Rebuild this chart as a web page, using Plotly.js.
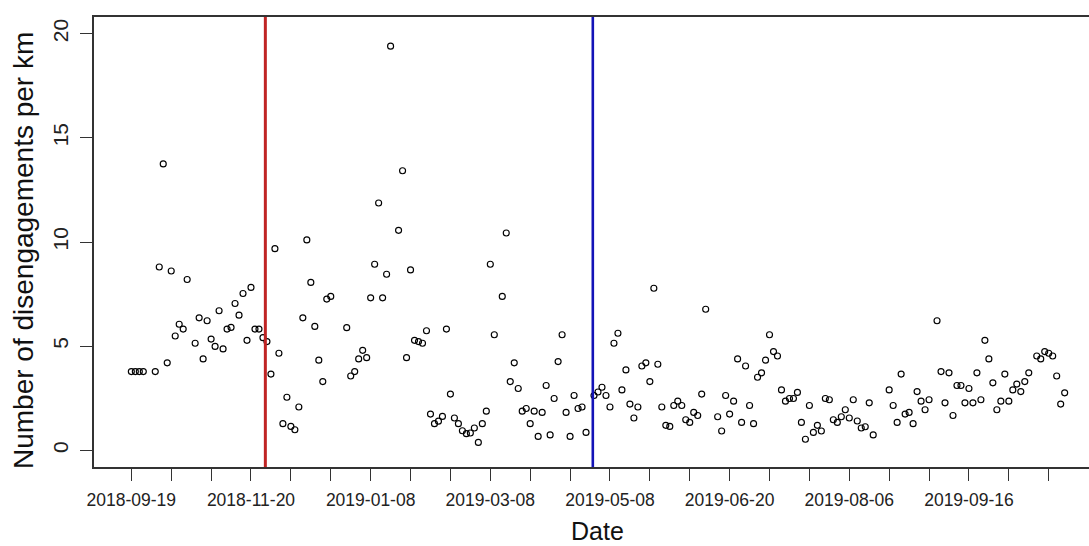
<!DOCTYPE html>
<html>
<head>
<meta charset="utf-8">
<script src="https://cdn.plot.ly/plotly-3.0.1.min.js"></script>
<style>
  html, body { margin: 0; padding: 0; background: #ffffff; overflow: hidden; }
  #chart { width: 1110px; height: 546px; }
</style>
</head>
<body>
<div id="chart"></div>
<script>
// Observation values (disengagements per km), one per observation index 1..235; null = no point drawn
const disengagementsPerKm = [
  3.78, 3.78, 3.78, 3.78, null, null, 3.78, 8.80, 13.75, 4.20,
  8.61, 5.49, 6.05, 5.82, 8.20, null, 5.14, 6.36, 4.39, 6.22,
  5.34, 4.99, 6.70, 4.87, 5.82, 5.90, 7.05, 6.49, 7.53, 5.28,
  7.82, 5.82, 5.82, 5.41, 5.22, 3.66, 9.68, 4.66, 1.28, 2.55,
  1.15, 0.99, 2.08, 6.36, 10.10, 8.06, 5.95, 4.33, 3.30, 7.26,
  7.39, null, null, null, 5.89, 3.57, 3.78, 4.39, 4.80, 4.45,
  7.32, 8.93, 11.87, 7.32, 8.45, 19.40, null, 10.56, 13.42, 4.45,
  8.66, 5.28, 5.22, 5.14, 5.74, 1.74, 1.28, 1.40, 1.63, 5.82,
  2.70, 1.55, 1.28, 0.94, 0.80, 0.83, 1.07, 0.38, 1.28, 1.88,
  8.93, 5.55, null, 7.39, 10.43, 3.30, 4.20, 2.97, 1.88, 2.01,
  1.28, 1.88, 0.67, 1.82, 3.11, 0.74, 2.49, 4.26, 5.55, 1.82,
  0.67, 2.63, 2.01, 2.08, 0.86, null, 2.63, 2.80, 3.03, 2.63,
  2.08, 5.14, 5.62, 2.90, 3.86, 2.22, 1.55, 2.08, 4.05, 4.20,
  3.30, 7.78, 4.13, 2.08, 1.20, 1.15, 2.15, 2.36, 2.15, 1.47,
  1.34, 1.82, 1.67, 2.70, 6.77, null, null, 1.61, 0.93, 2.63,
  1.74, 2.36, 4.39, 1.34, 4.05, 2.15, 1.28, 3.51, 3.72, 4.33,
  5.55, 4.74, 4.53, 2.90, 2.36, 2.49, 2.49, 2.78, 1.34, 0.53,
  2.15, 0.86, 1.20, 0.93, 2.49, 2.43, 1.47, 1.34, 1.61, 1.95,
  1.55, 2.43, 1.41, 1.07, 1.13, 2.28, 0.74, null, null, null,
  2.90, 2.15, 1.34, 3.66, 1.74, 1.82, 1.28, 2.82, 2.36, 1.95,
  2.43, null, 6.22, 3.78, 2.28, 3.72, 1.67, 3.11, 3.11, 2.28,
  2.97, 2.28, 3.72, 2.43, 5.28, 4.39, 3.24, 1.95, 2.36, 3.66,
  2.36, 2.90, 3.18, 2.82, 3.30, 3.72, null, 4.53, 4.39, 4.74,
  4.66, 4.53, 3.57, 2.22, 2.76
];
const obsIndex = disengagementsPerKm.map((_, i) => i + 1);

// Date labels shown under every third tick (ticks every 10 observations)
const dateLabels = ["2018-09-19", "2018-11-20", "2019-01-08", "2019-03-08",
                    "2019-05-08", "2019-06-20", "2019-08-06", "2019-09-16"];
const tickIndex = [1, 11, 21, 31, 41, 51, 61, 71, 81, 91, 101, 111,
                   121, 131, 141, 151, 161, 171, 181, 191, 201, 211, 221, 231];
const tickText = tickIndex.map((v, k) => (k % 3 === 0 ? dateLabels[k / 3] : ""));

// Event markers (observation index of the two vertical lines)
const eventIndex = [34.6, 116.7];
const eventColor = ["#c02424", "#1414b8"];

const yTicks = [0, 5, 10, 15, 20];
const xTitle = "Date";
const yTitle = "Number of disengagements per km";

const N = disengagementsPerKm.length;
const pad = 0.04 * (N - 1);

const trace = {
  x: obsIndex,
  y: disengagementsPerKm,
  type: "scatter",
  mode: "markers",
  marker: { symbol: "circle-open", size: 6, color: "#000000", line: { width: 1.15, color: "#000000" } },
  hoverinfo: "x+y",
  showlegend: false
};

const shapes = eventIndex.map((xv, k) => ({
  type: "line", xref: "x", yref: "paper",
  x0: xv, x1: xv, y0: 0, y1: 1,
  line: { color: eventColor[k], width: k === 0 ? 3 : 2.6 },
  layer: "above"
}));

const layout = {
  width: 1110,
  height: 546,
  margin: { l: 94, r: 8, t: 17, b: 79 },
  paper_bgcolor: "#ffffff",
  plot_bgcolor: "#ffffff",
  font: { family: "Liberation Sans, Arial, sans-serif", color: "#1a1a1a" },
  showlegend: false,
  xaxis: {
    range: [1 - pad, N + pad],
    tickmode: "array",
    tickvals: tickIndex,
    ticktext: tickText,
    ticks: "outside",
    ticklen: 12,
    tickwidth: 1.2,
    tickcolor: "#333333",
    ticklabelstandoff: 4,
    tickfont: { size: 17.5, color: "#222222" },
    showgrid: false,
    zeroline: false,
    showline: true,
    mirror: true,
    linecolor: "#333333",
    linewidth: 1.5,
    automargin: false
  },
  yaxis: {
    range: [-0.8, 20.8],
    tickmode: "array",
    tickvals: yTicks,
    ticktext: yTicks.map(String),
    tickangle: -90,
    ticks: "outside",
    ticklen: 12,
    tickwidth: 1.2,
    tickcolor: "#333333",
    ticklabelstandoff: 4,
    tickfont: { size: 21, color: "#222222" },
    showgrid: false,
    zeroline: false,
    showline: true,
    mirror: true,
    linecolor: "#333333",
    linewidth: 1.5,
    automargin: false
  },
  annotations: [
    {
      text: yTitle,
      xref: "paper", yref: "paper",
      x: -0.0705, y: 0.482,
      xanchor: "center", yanchor: "middle",
      textangle: -90,
      showarrow: false,
      font: { size: 28, color: "#111111" }
    },
    {
      text: xTitle,
      xref: "paper", yref: "paper",
      x: 0.4995, y: -0.1745,
      xanchor: "center", yanchor: "bottom",
      borderpad: 0,
      showarrow: false,
      font: { size: 25, color: "#111111" }
    }
  ],
  shapes: shapes
};

Plotly.newPlot("chart", [trace], layout, { displayModeBar: false, responsive: false });
</script>
</body>
</html>
